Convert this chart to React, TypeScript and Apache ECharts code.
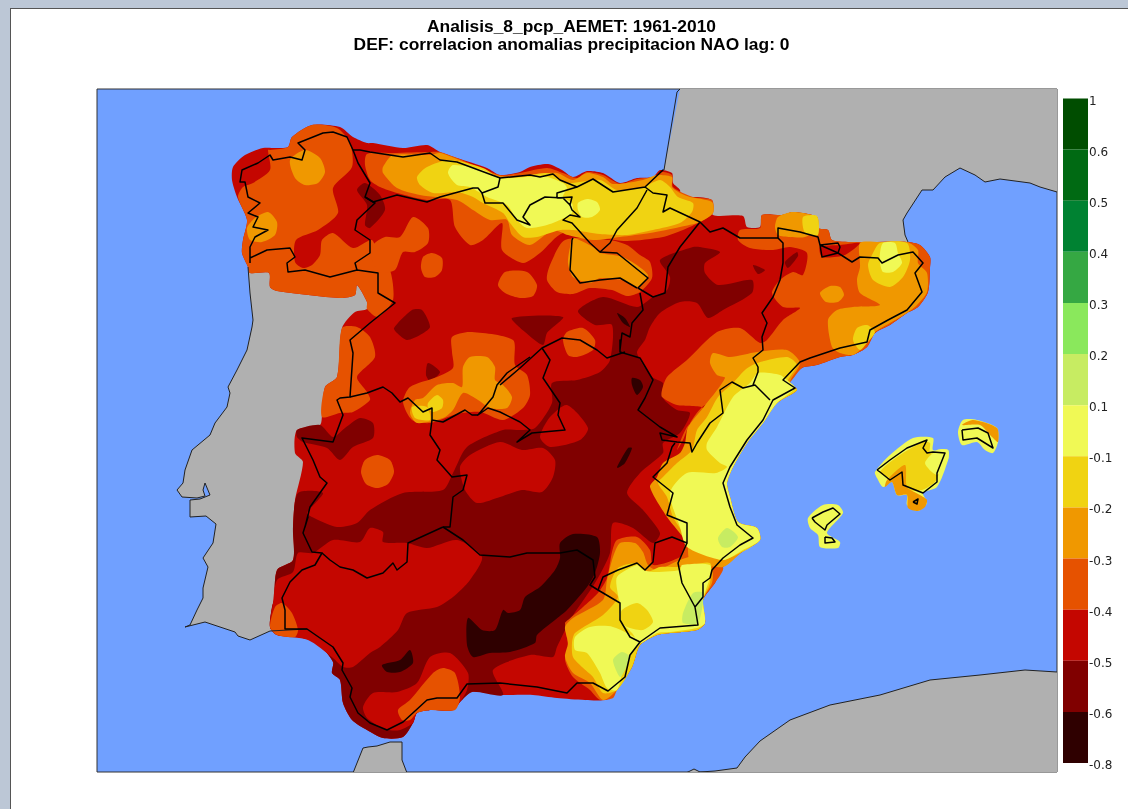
import React, { useEffect, useRef } from "react";
import * as echarts from "echarts";

type Pts = number[][];

const titleLines = ["Analisis_8_pcp_AEMET: 1961-2010", "DEF: correlacion anomalias precipitacion NAO lag: 0"];

const colorbarLabels = ["1", "0.6", "0.5", "0.4", "0.3", "0.2", "0.1", "-0.1", "-0.2", "-0.3", "-0.4", "-0.5", "-0.6", "-0.8"];
const colorbarColors = ["#004d00", "#006a13", "#008232", "#35a843", "#8ae85c", "#c7ec62", "#f0f955", "#f0d312", "#f09800", "#e65200", "#c40600", "#800000", "#2f0000"];

const SEA = "#70a0ff", LAND = "#b0b0b0", PALEGREEN = "#c7ec62", PALE = "#f0f955", YELLOW = "#f0d312", AMBER = "#f09800", ORANGE = "#e65200", RED = "#c40600", DARK = "#800000", DARKEST = "#2f0000";

// ---------- grey land, in map units ----------
const france: Pts = [[680,89],[1057,89],[1057,192],[1040,187],[1030,183],[1000,179],[985,182],[975,175],[960,168],[945,177],[933,190],[922,190],[907,213],[903,220],[905,235],[908,242],[907,300],[700,300],[664,170]];
const portugal: Pts = [[248,267],[250,293],[253,320],[252,327],[247,350],[237,370],[228,387],[230,393],[227,407],[215,423],[210,435],[192,450],[185,470],[183,483],[177,490],[182,497],[197,498],[205,496],[203,490],[205,483],[210,495],[200,499],[190,500],[190,517],[206,516],[216,524],[213,543],[203,558],[208,567],[203,588],[203,598],[197,610],[190,625],[185,627],[205,622],[235,632],[238,636],[250,640],[270,631],[320,600],[400,400],[400,270]];
const ceuta: Pts = [[353,773],[363,748],[368,747],[377,746],[390,742],[402,742],[402,760],[407,773]];
const africa: Pts = [[686,773],[694,769],[700,772],[715,771],[737,768],[745,757],[760,741],[790,720],[830,705],[880,695],[930,680],[980,675],[1025,670],[1057,672],[1057,773]];

// ---------- precipitation correlation bands ----------
const spainBand: Pts = [[232,180],[233,167],[245,155],[263,148],[277,148],[288,147],[292,137],[312,125],[340,127],[353,137],[367,143],[373,143],[403,148],[427,145],[440,152],[457,158],[487,168],[500,175],[520,172],[530,167],[548,164],[562,170],[573,177],[587,171],[603,173],[620,183],[637,178],[653,177],[660,170],[672,173],[673,183],[680,190],[680,200],[693,197],[712,200],[713,215],[743,216],[747,227],[760,227],[762,215],[782,215],[793,212],[817,217],[818,228],[828,230],[832,240],[853,242],[907,242],[920,245],[930,257],[930,268],[928,292],[918,307],[907,313],[890,325],[875,333],[867,347],[853,355],[840,357],[817,365],[802,368],[790,382],[797,390],[777,403],[763,423],[747,443],[733,467],[727,483],[730,497],[738,522],[757,528],[760,540],[742,552],[723,567],[715,583],[703,600],[705,623],[697,630],[670,633],[657,635],[640,645],[632,667],[617,690],[603,700],[585,700],[557,698],[533,695],[503,695],[472,692],[460,702],[453,710],[430,710],[417,713],[413,723],[403,737],[383,738],[367,730],[352,720],[343,703],[340,680],[332,673],[333,662],[317,643],[298,637],[277,635],[270,627],[272,607],[274,600],[277,570],[293,560],[293,527],[295,500],[303,462],[295,453],[297,430],[320,425],[322,415],[325,387],[337,377],[342,328],[355,312],[367,309],[367,302],[357,285],[355,295],[340,298],[277,291],[270,287],[269,273],[250,273],[248,267],[242,253],[243,240],[247,220],[237,197]];

const darkCentre: Pts = [[293,527],[298,493],[323,493],[307,513],[312,517],[337,527],[357,523],[370,510],[403,493],[443,490],[453,473],[467,447],[503,430],[520,430],[535,428],[552,403],[552,383],[577,380],[600,372],[610,360],[612,325],[595,325],[578,311],[603,297],[637,307],[653,297],[667,290],[670,277],[660,260],[693,247],[700,247],[720,252],[705,263],[705,273],[718,285],[752,280],[752,293],[723,310],[708,318],[697,303],[680,302],[660,313],[650,327],[645,340],[637,353],[652,377],[663,383],[663,398],[677,410],[690,413],[680,433],[663,443],[663,453],[640,473],[627,493],[643,510],[660,533],[653,543],[633,528],[613,523],[610,553],[595,583],[572,617],[557,647],[553,657],[530,655],[493,670],[503,695],[472,692],[460,702],[453,710],[430,710],[417,713],[413,723],[403,737],[383,738],[367,730],[352,720],[343,703],[340,680],[332,673],[333,662],[317,643],[298,637],[277,635],[270,627],[272,607],[274,600],[277,570],[293,560]];
const darkDuero: Pts = [[512,318],[563,317],[547,333],[543,345],[525,332]];
const darkWest: Pts = [[297,430],[320,425],[333,437],[345,428],[360,418],[373,423],[373,438],[353,447],[340,460],[327,448],[303,442],[297,437]];
const darkZamora: Pts = [[394,328],[412,310],[422,310],[430,327],[420,335],[407,340],[397,333]];
const darkSmall: Pts = [[428,363],[440,372],[430,381],[426,375]];
const darkLeon: Pts = [[357,190],[365,183],[380,195],[385,210],[370,228],[365,225],[367,205]];
const darkTeruel: Pts = [[753,265],[765,270],[758,274]];
const darkLleida: Pts = [[785,262],[797,252],[798,256],[788,268]];

const redAndalucia: Pts = [[298,553],[313,553],[333,540],[360,542],[370,528],[383,532],[383,542],[407,543],[427,548],[457,540],[482,557],[470,580],[453,597],[437,607],[407,613],[398,630],[380,647],[370,653],[353,667],[343,667],[333,658],[308,640],[277,635],[270,627],[273,603],[277,580],[293,572]];
const redMalaga: Pts = [[363,707],[373,693],[397,692],[417,683],[430,657],[450,653],[468,673],[467,690],[460,702],[453,710],[430,710],[417,713],[413,723],[400,730],[387,730],[380,727],[367,718]];
const redMancha: Pts = [[460,467],[470,455],[500,442],[522,450],[543,448],[555,460],[553,477],[542,492],[522,490],[500,497],[477,503],[465,490]];
const redToledo: Pts = [[567,405],[588,428],[580,440],[550,447],[540,437],[550,417]];
const redAndorra: Pts = [[820,247],[840,245],[860,243],[845,255],[822,257]];

const orangeGalicia: Pts = [[270,150],[288,147],[292,137],[312,125],[337,128],[350,143],[352,167],[333,188],[338,213],[318,230],[296,240],[295,262],[303,268],[312,265],[320,255],[322,240],[333,233],[353,248],[372,240],[378,258],[390,270],[393,300],[378,317],[367,309],[367,302],[357,285],[355,295],[340,298],[277,291],[270,287],[269,273],[250,273],[248,267],[242,253],[243,240],[247,220],[238,197],[243,187],[253,183],[270,170],[268,150]];
const orangeNorth: Pts = [[367,154],[393,153],[430,152],[440,152],[457,158],[500,175],[520,173],[547,168],[563,173],[577,178],[587,172],[603,175],[620,184],[637,179],[653,177],[662,172],[672,175],[673,187],[693,197],[712,200],[713,213],[700,222],[683,230],[663,237],[627,241],[600,238],[563,233],[540,253],[523,263],[502,250],[502,223],[483,240],[470,245],[455,227],[450,200],[427,200],[397,193],[380,187],[370,180],[365,165]];
const orangeRioja: Pts = [[565,240],[610,240],[627,245],[640,255],[650,262],[652,278],[640,292],[627,296],[612,290],[590,288],[573,294],[557,292],[547,280],[550,265]];
const orangeLeonA: Pts = [[413,217],[428,228],[428,243],[415,252],[403,252],[395,270],[380,272],[372,260],[373,245],[385,237],[400,237]];
const orangeLeonB: Pts = [[432,253],[442,258],[442,270],[435,277],[425,277],[421,268],[423,257]];
const orangeBurgos: Pts = [[505,272],[527,272],[537,285],[533,296],[520,298],[505,293],[498,285]];
const orangeGredos: Pts = [[452,337],[470,332],[513,340],[515,365],[527,375],[530,395],[523,408],[503,420],[480,412],[457,414],[430,423],[412,420],[403,402],[410,387],[437,377],[453,368],[452,352]];
const orangeSoria: Pts = [[563,340],[567,332],[583,328],[595,340],[593,350],[577,357],[568,355]];
const orangeRaya: Pts = [[342,328],[357,327],[370,337],[375,357],[357,377],[367,392],[370,400],[353,412],[340,413],[322,417],[325,387],[337,377]];
const orangeCaceres: Pts = [[377,455],[390,460],[394,472],[388,484],[377,488],[366,484],[361,472],[365,460]];
const orangeEast: Pts = [[782,215],[793,212],[817,217],[818,228],[828,230],[832,240],[853,242],[907,242],[920,245],[930,257],[930,268],[928,292],[918,307],[907,313],[890,325],[875,333],[867,347],[853,355],[840,357],[817,365],[802,368],[790,382],[765,395],[745,395],[705,405],[690,423],[683,440],[677,450],[687,427],[703,408],[677,405],[662,397],[662,390],[667,377],[687,360],[717,332],[740,328],[760,343],[767,340],[783,320],[800,308],[783,307],[772,293],[780,280],[793,272],[803,275],[807,253],[790,247],[773,250],[750,248],[738,240],[740,230],[760,228],[762,215]];
const orangeSouthCoast: Pts = [[398,710],[410,700],[433,673],[443,668],[455,673],[460,697],[455,710],[430,710],[417,713],[410,720],[402,720]];
const orangeHuelva: Pts = [[270,627],[275,607],[282,603],[292,613],[298,630],[295,637],[277,635]];
const orangeMurcia: Pts = [[568,620],[583,607],[598,593],[607,578],[612,552],[617,540],[637,537],[650,550],[653,565],[680,557],[685,545],[690,535],[723,567],[715,583],[703,600],[705,623],[697,630],[670,633],[657,635],[640,645],[632,667],[617,690],[613,698],[600,700],[590,690],[573,677],[565,660],[568,647],[565,623]];

const amberLugo: Pts = [[290,160],[305,150],[320,158],[325,172],[318,183],[305,185],[295,178]];
const amberRias: Pts = [[247,228],[255,218],[268,212],[277,222],[275,235],[262,242],[250,240]];
const amberNorth: Pts = [[383,167],[393,155],[430,155],[440,153],[457,159],[500,176],[530,175],[557,173],[573,180],[587,173],[603,177],[613,184],[643,180],[657,175],[672,177],[672,187],[680,193],[690,197],[712,202],[713,213],[700,222],[680,227],[650,233],[620,237],[593,240],[568,235],[553,230],[530,245],[512,235],[507,220],[490,220],[473,210],[457,200],[420,195],[397,188],[383,173]];
const amberRioja: Pts = [[570,247],[573,238],[593,247],[600,253],[623,257],[648,275],[637,287],[623,280],[600,278],[590,283],[573,277],[568,263]];
const amberGredos: Pts = [[463,367],[470,357],[487,357],[495,367],[495,380],[503,385],[512,397],[507,408],[490,408],[478,400],[463,393],[453,410],[443,418],[417,423],[410,413],[415,400],[423,398],[437,385],[453,383],[462,387]];
const amberCatalonia: Pts = [[857,280],[860,267],[860,243],[880,242],[907,242],[918,250],[918,263],[927,273],[927,292],[917,305],[907,313],[890,323],[875,332],[860,350],[853,355],[840,353],[832,347],[828,320],[837,310],[853,307],[880,305],[860,293]];
const amberBlob: Pts = [[820,293],[830,286],[840,287],[844,295],[838,302],[826,302]];
const amberPyrenees: Pts = [[775,227],[778,217],[793,212],[817,217],[818,228],[805,237],[790,237],[778,235]];
const amberLevante: Pts = [[710,363],[713,353],[730,357],[757,352],[787,350],[800,363],[790,382],[797,390],[777,403],[763,423],[747,443],[733,467],[727,483],[730,497],[738,522],[757,528],[760,540],[742,552],[723,567],[690,560],[687,543],[667,517],[650,487],[657,477],[663,463],[680,453],[685,443],[688,427],[703,408],[725,378],[717,375]];
const amberMurcia: Pts = [[565,627],[573,618],[603,600],[607,580],[613,557],[620,543],[635,543],[643,552],[648,565],[657,570],[680,560],[693,557],[712,570],[712,583],[703,600],[705,623],[697,630],[670,633],[657,635],[640,645],[632,667],[617,690],[603,700],[590,683],[573,673],[565,657],[568,643]];

const yellowNorth: Pts = [[417,177],[427,167],[450,160],[483,168],[500,178],[520,177],[547,173],[567,183],[600,180],[617,190],[643,187],[660,180],[670,187],[678,197],[693,203],[692,212],[680,223],[653,230],[627,235],[600,234],[573,230],[560,230],[537,237],[523,237],[510,223],[503,213],[483,203],[473,197],[457,192],[433,193],[420,185]];
const yellowGredos: Pts = [[428,403],[437,395],[443,400],[442,408],[433,412],[428,408]];
const yellowGredosB: Pts = [[412,407],[427,407],[430,420],[415,418]];
const yellowAmpurdan: Pts = [[868,265],[873,253],[880,243],[907,243],[910,260],[903,277],[890,287],[873,280]];
const yellowPyrenees: Pts = [[803,217],[817,216],[818,235],[805,233]];
const yellowTarragona: Pts = [[853,340],[857,328],[867,325],[875,332],[867,343],[860,350]];
const yellowLevante: Pts = [[757,363],[787,357],[797,365],[787,383],[797,390],[777,403],[763,423],[747,443],[733,467],[727,483],[730,497],[738,522],[757,528],[760,540],[742,552],[720,560],[700,545],[687,537],[673,517],[667,497],[658,483],[663,477],[677,463],[692,450],[697,430],[707,417],[718,397],[733,383],[745,370]];
const yellowMurcia: Pts = [[572,643],[575,633],[603,615],[618,597],[610,587],[618,568],[637,563],[647,572],[660,567],[682,567],[710,563],[710,583],[703,600],[705,623],[697,630],[670,633],[657,635],[640,645],[632,667],[617,690],[603,693],[593,677],[582,667],[573,657]];

const paleNorth: Pts = [[448,173],[453,165],[483,170],[500,178],[527,177],[547,177],[563,183],[567,188],[563,197],[572,203],[572,213],[560,220],[547,225],[527,228],[517,220],[507,205],[487,197],[470,187],[457,185]];
const paleBasque: Pts = [[578,203],[587,199],[597,202],[600,210],[592,217],[582,217],[578,210]];
const paleAmpurdan: Pts = [[880,253],[883,243],[895,243],[898,253],[902,263],[893,272],[883,272],[880,263]];
const paleLevante: Pts = [[750,383],[758,373],[780,375],[787,380],[795,388],[777,403],[763,423],[747,443],[733,467],[727,483],[730,497],[738,522],[757,528],[760,540],[743,550],[723,560],[687,547],[680,527],[670,493],[687,473],[716,473],[727,467],[720,463],[707,450],[707,443],[717,427],[733,397]];
const paleMurcia: Pts = [[618,595],[617,577],[637,565],[643,570],[653,572],[680,570],[682,565],[710,565],[710,577],[703,600],[705,623],[697,628],[670,632],[657,633],[640,643],[632,633],[620,620],[620,603]];
const paleAlmeria: Pts = [[575,637],[590,627],[613,627],[640,642],[630,655],[623,670],[617,690],[607,688],[600,673],[587,653],[575,650]];
const yellowPatchMurcia: Pts = [[622,610],[637,603],[647,610],[653,622],[643,630],[627,627],[620,620]];

const greenAlicante: Pts = [[718,538],[727,528],[738,537],[730,547],[722,547]];
const greenAlmeria: Pts = [[613,660],[622,652],[630,657],[625,670],[620,677]];
const greenSegura: Pts = [[683,613],[693,593],[703,593],[698,623],[683,623]];

const darkestSegura: Pts = [[560,543],[573,534],[597,537],[600,553],[595,573],[587,587],[567,610],[555,620],[537,635],[535,643],[510,652],[490,653],[473,657],[467,645],[468,618],[482,630],[495,630],[503,610],[508,613],[520,610],[525,597],[540,587],[555,570],[560,558]];
const darkestJaen: Pts = [[382,665],[400,660],[410,650],[413,663],[400,672],[387,672]];
const darkestCuenca: Pts = [[617,467],[628,448],[632,448],[625,463],[618,468]];
const darkestGuadalajara: Pts = [[632,378],[640,380],[643,387],[637,395],[632,385]];
const darkestTeruel: Pts = [[617,313],[625,318],[630,327],[623,323]];

const mallorcaHalo: Pts = [[875,472],[890,455],[913,438],[933,438],[933,450],[948,450],[948,460],[937,487],[923,493],[927,503],[918,511],[907,505],[907,495],[897,495],[892,482],[883,487],[877,478]];
const mallorcaYellow: Pts = [[880,472],[897,457],[923,442],[930,443],[930,453],[943,452],[940,470],[935,482],[922,490],[908,490],[903,480],[890,478]];
const mallorcaAmber: Pts = [[887,480],[905,465],[907,487],[920,495],[927,500],[925,507],[918,511],[908,508],[907,495],[897,495],[892,482],[885,487]];
const mallorcaPale: Pts = [[925,463],[937,450],[948,450],[948,460],[937,475]];
const menorcaHalo: Pts = [[958,432],[963,420],[977,420],[997,428],[998,442],[993,453],[985,450],[977,442],[962,445]];
const menorcaAmber: Pts = [[962,425],[973,420],[997,428],[998,442],[992,437],[980,425]];
const ibizaHalo: Pts = [[808,518],[823,505],[838,505],[843,513],[827,533],[840,542],[838,548],[820,547],[818,535],[810,528]];

const bandLayers: { color: string; pts: Pts }[] = [
  ...[spainBand].map((pts) => ({ color: RED, pts })),
  ...[darkCentre, darkDuero, darkWest, darkZamora, darkSmall, darkLeon].map((pts) => ({ color: DARK, pts })),
  ...[redAndalucia, redMalaga, redMancha, redToledo].map((pts) => ({ color: RED, pts })),
  ...[orangeGalicia, orangeNorth, orangeRioja, orangeLeonA, orangeLeonB, orangeBurgos, orangeGredos, orangeSoria, orangeRaya, orangeCaceres, orangeEast, orangeSouthCoast, orangeHuelva, orangeMurcia].map((pts) => ({ color: ORANGE, pts })),
  ...[redAndorra].map((pts) => ({ color: RED, pts })),
  ...[darkTeruel, darkLleida].map((pts) => ({ color: DARK, pts })),
  ...[amberLugo, amberRias, amberNorth, amberRioja, amberGredos, amberCatalonia, amberBlob, amberPyrenees, amberLevante, amberMurcia].map((pts) => ({ color: AMBER, pts })),
  ...[yellowNorth, yellowGredos, yellowGredosB, yellowAmpurdan, yellowPyrenees, yellowTarragona, yellowLevante, yellowMurcia].map((pts) => ({ color: YELLOW, pts })),
  ...[paleNorth, paleBasque, paleAmpurdan, paleLevante, paleMurcia, paleAlmeria].map((pts) => ({ color: PALE, pts })),
  ...[yellowPatchMurcia].map((pts) => ({ color: YELLOW, pts })),
  ...[greenAlicante, greenAlmeria, greenSegura].map((pts) => ({ color: PALEGREEN, pts })),
  ...[darkestSegura, darkestJaen, darkestCuenca, darkestGuadalajara, darkestTeruel].map((pts) => ({ color: DARKEST, pts })),
  ...[mallorcaHalo, menorcaHalo, ibizaHalo].map((pts) => ({ color: PALE, pts })),
  ...[mallorcaYellow].map((pts) => ({ color: YELLOW, pts })),
  ...[mallorcaAmber, menorcaAmber].map((pts) => ({ color: AMBER, pts })),
  ...[mallorcaPale].map((pts) => ({ color: PALE, pts })),
];

const landLayers: Pts[] = [france, portugal, ceuta, africa];

// ---------- coast and border lines ----------
const greyCoasts: Pts[] = [
  [[680,89],[677,92],[664,170]],
  [[1057,192],[1040,187],[1030,183],[1000,179],[985,182],[975,175],[960,168],[945,177],[933,190],[922,190],[907,213],[903,220],[905,235],[908,242]],
  [[248,267],[250,293],[253,320],[252,327],[247,350],[237,370],[228,387],[230,393],[227,407],[215,423],[210,435],[192,450],[185,470],[183,483],[177,490],[182,497],[197,498],[205,496],[203,490],[205,483],[210,495],[200,499],[190,500],[190,517],[206,516],[216,524],[213,543],[203,558],[208,567],[203,588],[203,598],[197,610],[190,625],[185,627],[205,622],[235,632],[238,636],[250,640],[270,631],[307,629]],
  [[353,773],[363,748],[368,747],[377,746],[390,742],[402,742],[402,760],[407,773]],
  [[686,773],[694,769],[700,772],[715,771],[737,768],[745,757],[760,741],[790,720],[830,705],[880,695],[930,680],[980,675],[1025,670],[1057,672]],
];
const spainBorder: Pts = [[250,263],[250,247],[255,237],[268,230],[253,227],[258,217],[248,213],[260,203],[248,197],[245,182],[240,182],[242,170],[258,163],[270,155],[273,160],[290,157],[302,160],[305,150],[298,143],[323,133],[333,132],[347,137],[353,150],[360,150],[370,152],[403,157],[430,153],[440,160],[457,162],[500,178],[530,175],[540,177],[553,174],[560,180],[577,187],[593,179],[613,192],[645,187],[663,170],[645,187],[653,193],[667,195],[663,212],[670,208],[700,222],[710,232],[723,228],[740,238],[762,238],[778,238],[778,228],[800,232],[818,237],[820,245],[838,243],[840,247],[838,253],[822,257],[820,245],[838,253],[852,262],[860,257],[878,258],[882,263],[898,255],[913,252],[923,263],[915,273],[922,292],[917,298],[907,310],[888,320],[870,330],[867,342],[840,348],[810,358],[800,362],[783,380],[795,388],[773,400],[763,420],[747,440],[730,467],[723,483],[730,507],[737,525],[753,538],[740,545],[723,558],[712,570],[710,578],[703,583],[703,597],[695,607],[698,625],[673,627],[660,628],[640,642],[630,655],[625,677],[608,691],[593,683],[577,683],[567,693],[537,687],[500,683],[467,684],[457,698],[437,698],[427,700],[403,722],[387,730],[370,723],[358,713],[350,697],[352,688],[342,670],[343,663],[333,647],[307,629],[285,629],[285,610],[282,598],[290,582],[302,570],[315,565],[322,553],[312,552],[303,533],[308,517],[305,527],[310,507],[327,483],[320,477],[313,460],[302,438],[333,442],[343,415],[337,400],[340,398],[350,397],[353,353],[350,340],[370,323],[395,303],[378,293],[378,273],[357,270],[330,277],[305,270],[288,272],[287,263],[295,257],[290,248],[267,250],[250,258],[250,263]];
const asturiasLeon: Pts = [[353,150],[358,163],[370,183],[365,197],[375,203],[357,220],[355,230],[370,240],[370,253],[355,263],[357,270]];
const cantabrianRange: Pts = [[365,197],[373,202],[397,195],[427,202],[440,197],[473,188],[478,188],[482,193],[498,187],[500,178]];
const cantabriaSouth: Pts = [[482,193],[485,203],[503,203],[517,220],[530,225],[523,217],[530,205],[545,197],[563,198],[570,205],[572,197],[557,198],[557,193],[577,187]];
const alava: Pts = [[570,205],[572,210],[580,217],[570,215],[563,220],[572,223],[590,243],[600,252],[610,243],[617,230],[637,208],[647,190]];
const navarraAragon: Pts = [[700,222],[680,247],[668,267],[665,293],[653,297],[638,288],[648,278],[617,253],[600,252]];
const riojaSouth: Pts = [[573,238],[572,240],[570,270],[580,283],[600,280],[620,278],[637,288]];
const castillaAragon: Pts = [[640,293],[643,310],[632,323],[630,337],[622,333],[620,350],[620,340],[620,352],[640,358],[653,380],[645,398],[638,410],[660,427],[677,437],[660,433],[662,440],[677,442],[690,443],[692,452],[697,443],[710,423],[723,413],[720,390],[732,382],[743,388],[755,385],[770,400]];
const aragonCatalonia: Pts = [[778,238],[783,243],[783,263],[780,280],[773,297],[762,313],[767,323],[762,337],[763,350],[753,358],[758,367],[758,372],[753,385]];
const madridCastilla: Pts = [[530,357],[507,373],[497,385],[493,397],[478,415],[488,408],[500,412],[520,422]];
const castillaSouth: Pts = [[500,385],[520,368],[542,348],[562,338],[580,340],[597,350],[607,358],[625,352]];
const madridEast: Pts = [[542,348],[550,360],[543,378],[560,403],[558,415],[565,430],[532,433],[517,442],[530,430],[520,422]];
const castillaWest: Pts = [[350,397],[367,393],[383,387],[392,393],[400,402],[408,398],[423,412],[432,408],[432,420],[443,422],[465,410],[472,415],[478,415]];
const extremaduraEast: Pts = [[432,420],[430,435],[440,450],[437,460],[452,477],[467,475],[463,490],[453,497],[450,527],[443,527]];
const extremaduraSouth: Pts = [[443,527],[408,543],[407,562],[397,570],[393,563],[383,573],[367,578],[353,570],[340,567],[330,560],[322,553]];
const manchaSouth: Pts = [[443,527],[463,540],[480,555],[510,557],[527,553],[560,553],[577,550],[593,560],[595,577],[590,585],[598,590],[620,603],[620,620],[630,637],[640,642]];
const murciaNorth: Pts = [[598,590],[603,577],[618,570],[637,563],[645,570],[653,562],[655,543],[672,537],[687,543],[687,523],[667,515],[673,493],[653,477],[667,463],[672,447],[675,443]];
const murciaEast: Pts = [[687,543],[678,563],[682,583],[695,607]];
const mallorcaLine: Pts = [[877,470],[890,460],[907,448],[927,440],[923,448],[927,453],[933,452],[945,453],[937,473],[937,482],[923,493],[903,485],[902,472],[890,480],[880,472],[877,470]];
const menorcaLine: Pts = [[962,430],[978,428],[988,433],[993,448],[977,438],[963,440],[962,430]];
const ibizaLine: Pts = [[812,518],[823,512],[833,508],[840,514],[827,525],[825,530],[815,522],[812,518]];
const formenteraLine: Pts = [[825,537],[832,538],[835,542],[825,543],[825,537]];
const cabreraLine: Pts = [[913,502],[918,499],[917,504],[913,502]];
const blackLines: Pts[] = [spainBorder, asturiasLeon, cantabrianRange, cantabriaSouth, alava, navarraAragon, riojaSouth, castillaAragon, aragonCatalonia, madridCastilla, castillaSouth, madridEast, castillaWest, extremaduraEast, extremaduraSouth, manchaSouth, murciaNorth, murciaEast, mallorcaLine, menorcaLine, ibizaLine, formenteraLine, cabreraLine];

export default function App() {
  const ref = useRef<HTMLDivElement>(null);
  useEffect(() => {
    const chart = echarts.init(ref.current!, null, { renderer: "svg" });
    const polyRender = (list: { color: string; pts: Pts }[], smooth: number) => (params: any, api: any) => {
      const it = list[params.dataIndex];
      return {
        type: "polygon",
        shape: { points: it.pts.map((p) => api.coord(p)), smooth },
        style: { fill: it.color, stroke: "none" },
        silent: true,
      };
    };
    const lineRender = (list: Pts[], stroke: string, lineWidth: number) => (params: any, api: any) => ({
      type: "polyline",
      shape: { points: list[params.dataIndex].map((p) => api.coord(p)) },
      style: { fill: "none", stroke, lineWidth, lineJoin: "round" },
      silent: true,
    });
    const indexData = (n: number) => Array.from({ length: n }, () => [97, 89]);
    const land = landLayers.map((pts) => ({ color: LAND, pts }));
    const onMap = { type: "custom", coordinateSystem: "cartesian2d", xAxisIndex: 0, yAxisIndex: 0, clip: true };
    chart.setOption({
      animation: false,
      title: {
        text: titleLines.join("\n"),
        left: 566.5,
        top: 12,
        textAlign: "center",
        textStyle: { fontFamily: "Liberation Sans", fontSize: 17.4, fontWeight: "bold", color: "#000", lineHeight: 18 },
      },
      grid: [
        { left: 97, top: 89, width: 960, height: 683, show: true, backgroundColor: SEA, borderColor: "#333", borderWidth: 1, containLabel: false },
        { left: 1063, top: 98.5, width: 25, height: 664.5, show: false },
      ],
      xAxis: [
        { type: "value", gridIndex: 0, min: 97, max: 1057, show: false },
        { type: "value", gridIndex: 1, min: 0, max: 1, show: false },
      ],
      yAxis: [
        { type: "value", gridIndex: 0, min: 89, max: 772, inverse: true, show: false },
        {
          type: "value",
          gridIndex: 1,
          min: 0,
          max: 13,
          interval: 1,
          inverse: true,
          position: "right",
          axisLine: { show: false },
          axisTick: { show: false },
          splitLine: { show: false },
          axisLabel: {
            margin: 1,
            color: "#222",
            fontFamily: "DejaVu Sans",
            fontSize: 12,
            lineHeight: 4,
            verticalAlign: "top",
            formatter: (v: number) => colorbarLabels[v] ?? "",
          },
        },
      ],
      series: [
        { ...onMap, data: indexData(land.length), renderItem: polyRender(land, 0) },
        { ...onMap, data: indexData(bandLayers.length), renderItem: polyRender(bandLayers, 0.25) },
        { ...onMap, data: indexData(greyCoasts.length), renderItem: lineRender(greyCoasts, "#222", 1) },
        { ...onMap, data: indexData(blackLines.length), renderItem: lineRender(blackLines, "#000", 1.5) },
        {
          type: "custom",
          coordinateSystem: "cartesian2d",
          xAxisIndex: 1,
          yAxisIndex: 1,
          data: colorbarColors.map((_, i) => [0, i]),
          renderItem: (params: any, api: any) => {
            const a = api.coord([0, params.dataIndex]);
            const b = api.coord([1, params.dataIndex + 1]);
            return {
              type: "rect",
              shape: { x: a[0], y: a[1], width: b[0] - a[0], height: b[1] - a[1] },
              style: { fill: colorbarColors[params.dataIndex] },
              silent: true,
            };
          },
        },
      ],
    });
    return () => chart.dispose();
  }, []);
  return (
    <div style={{ position: "fixed", inset: 0, background: "#bcc7d6", overflow: "hidden" }}>
      <div style={{ position: "absolute", left: 10, top: 8, right: -4, bottom: -4, background: "#fff", border: "1px solid #555" }} />
      <div ref={ref} style={{ position: "absolute", left: 0, top: 0, width: 1128, height: 809, filter: "blur(0.4px)" }} />
    </div>
  );
}
